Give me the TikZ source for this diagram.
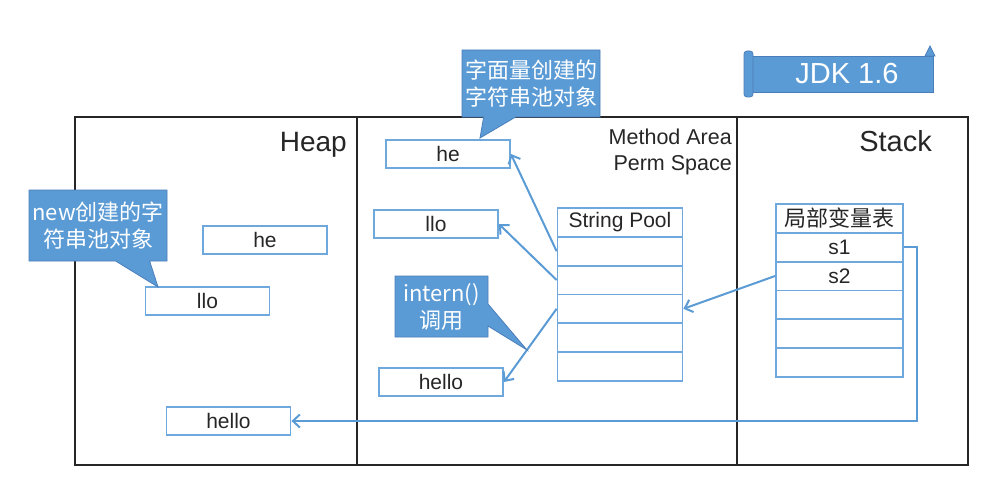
\documentclass[tikz,border=0pt]{standalone}
\usepackage{fontspec}
\setmainfont{Liberation Sans}
\newfontfamily\cjk{Noto Sans CJK SC}
\usetikzlibrary{shapes.callouts,arrows.meta}

\definecolor{boxblue}{HTML}{6FA8DC}
\definecolor{callblue}{HTML}{5B9BD5}
\definecolor{calledge}{HTML}{4A7EBB}
\definecolor{txt}{HTML}{262626}

\begin{document}
\begin{tikzpicture}[x=1pt,y=-1pt]
    %\tikzset{every node/.style={draw=red}}
    \tikzset{
        strbox/.style={draw=boxblue,line width=1.8pt,minimum width=124pt,minimum height=28pt,
            inner sep=0pt,text=txt,font=\fontsize{21}{24}\selectfont},
        cell/.style={strbox,minimum height=28.8pt},
        note/.style={rectangle callout,fill=callblue,draw=calledge,line width=0.8pt,text=white,
            align=center,inner sep=0pt,font=\cjk\fontsize{22}{27}\selectfont},
        ref/.style={draw=callblue,line width=2pt,-{Straight Barb[length=7pt,width=13pt]}},
        title/.style={text=txt,inner sep=0pt}
    }
    \useasboundingbox (0,0) rectangle (986,495);

    % areas
    \draw[line width=1.8pt,txt] (75,117) rectangle (968,465);
    \draw[line width=1.8pt,txt] (357,117) -- (357,465);
    \draw[line width=1.8pt,txt] (737,117) -- (737,465);
    \node[title,anchor=base east,font=\fontsize{28}{32}\selectfont] (heap) at (347,151) {Heap};
    \node[title,anchor=base east,font=\fontsize{21.5}{26}\selectfont,align=right] (method) at (732,170) {Method Area\\Perm Space};
    \node[title,anchor=base east,font=\fontsize{29}{32}\selectfont] (stack) at (932,151) {Stack};

    % banner
    \filldraw[fill=callblue,draw=calledge,line width=0.8pt] (748,56) rectangle (933,92);
    \filldraw[fill=callblue,draw=calledge,line width=0.8pt,rounded corners=3pt] (744,51) rectangle (753,97);
    \filldraw[fill=callblue,draw=calledge,line width=0.8pt] (925,56) -- (930,46) -- (935,56) -- cycle;
    \node[text=white,font=\fontsize{29}{32}\selectfont] (jdk) at (847,74) {JDK 1.6};

    % heap
    \node[strbox] (he1) at (265,240) {he};
    \node[strbox] (llo1) at (207.5,301) {llo};
    \node[strbox] (hello1) at (228.5,421) {hello};

    % method area
    \node[strbox] (he2) at (448,154) {he};
    \node[strbox] (llo2) at (436,224) {llo};
    \node[strbox] (hello2) at (441,382) {hello};

    \foreach \i/\t in {0/String Pool,1/,2/,3/,4/,5/}
        \node[cell,minimum width=125pt] (pool\i) at (620,222.4+28.8*\i) {\t};

    % stack
    \foreach \i/\t in {0/{\cjk\fontsize{22}{24}\selectfont 局部变量表},1/s1,2/s2,3/,4/,5/}
        \node[cell,minimum width=127pt] (st\i) at (839.5,218.4+28.8*\i) {\t};

    % references
    \draw[ref] (pool1.west) -- (he2.east);
    \draw[ref] (pool2.west) -- (llo2.east);
    \draw[ref] (pool3.west) -- (hello2.east);
    \draw[ref] (st2.west) -- (pool3.east);
    \draw[ref] (st1.east) -- ++(13,0) |- (hello1.east);

    % notes
    \node[note,minimum width=138pt,minimum height=67pt,callout pointer width=32pt,
        callout absolute pointer={(480,138)}] (lit) at (531,83.5) {字面量创建的\\字符串池对象};
    \node[note,minimum width=93pt,minimum height=61pt,callout pointer width=22pt,
        callout absolute pointer={(527,350)}] (intern) at (441.5,306.5) {intern()\\调用};
    \node[note,minimum width=138pt,minimum height=71pt,callout pointer width=34pt,
        callout absolute pointer={(158,287)}] (new) at (98,225.5) {new创建的字\\符串池对象};
\end{tikzpicture}
\end{document}
